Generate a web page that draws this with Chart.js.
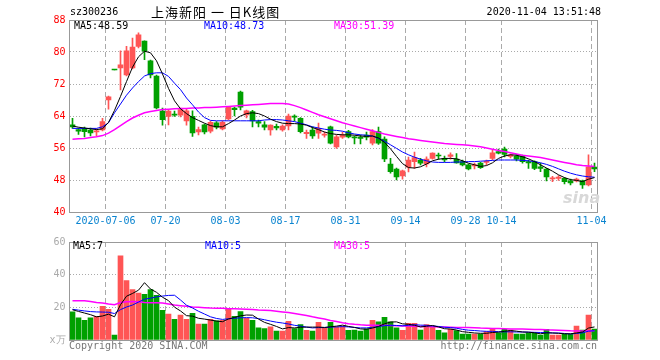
<!DOCTYPE html>
<html>
<head>
<meta charset="utf-8">
<script src="https://cdn.jsdelivr.net/npm/chart.js@4.4.0/dist/chart.umd.min.js"></script>
<style>
  body { margin: 0; background: #fff; width: 660px; height: 360px; position: relative; overflow: hidden;
         font-family: "DejaVu Sans Mono", monospace; font-size: 10px; }
  canvas { position: absolute; left: 0; }
  #kc { top: 0; }
  #vc { top: 232px; }
  .t { position: absolute; white-space: pre; line-height: 12px; z-index: 2; }
</style>
</head>
<body>
<canvas id="kc" width="660" height="232"></canvas>
<canvas id="vc" width="660" height="128"></canvas>

<div class="t" style="left:70px;top:6px">sz300236</div>
<div class="t" style="left:151px;top:4px;font-family:'Noto Sans CJK SC';font-size:13px;line-height:16px;letter-spacing:1px">上海新阳 一 日K线图</div>
<div class="t" style="right:59px;top:6px">2020-11-04 13:51:48</div>

<div class="t" style="left:74px;top:20px;color:#000">MA5:48.59</div>
<div class="t" style="left:204px;top:20px;color:#0000ff">MA10:48.73</div>
<div class="t" style="left:334px;top:20px;color:#ff00ff">MA30:51.39</div>
<div class="t" style="left:563px;top:188px;color:#d8d8d8;font:italic bold 16px 'DejaVu Sans'">sina</div>

<div class="t" style="left:73px;top:240px;color:#000">MA5:7</div>
<div class="t" style="left:205px;top:240px;color:#0000ff">MA10:5</div>
<div class="t" style="left:334px;top:240px;color:#ff00ff">MA30:5</div>

<div class="t" style="left:69px;top:340px;color:#777">Copyright 2020 SINA.COM</div>
<div class="t" style="right:63px;top:340px;color:#777">http://finance.sina.com.cn</div>

<script>
// trading days shown (2020)
const dates = ['06-24','06-29','06-30','07-01','07-02','07-03',
  '07-06','07-07','07-08','07-09','07-10','07-13','07-14','07-15','07-16','07-17',
  '07-20','07-21','07-22','07-23','07-24','07-27','07-28','07-29','07-30','07-31',
  '08-03','08-04','08-05','08-06','08-07','08-10','08-11','08-12','08-13','08-14',
  '08-17','08-18','08-19','08-20','08-21','08-24','08-25','08-26','08-27','08-28','08-31',
  '09-01','09-02','09-03','09-04','09-07','09-08','09-09','09-10','09-11',
  '09-14','09-15','09-16','09-17','09-18','09-21','09-22','09-23','09-24','09-25',
  '09-28','09-29','09-30',
  '10-09','10-12','10-13','10-14','10-15','10-16','10-19','10-20','10-21','10-22','10-23','10-26','10-27','10-28','10-29','10-30',
  '11-02','11-03','11-04'];

const tickDates = ['07-06','07-20','08-03','08-17','08-31','09-14','09-28','10-14','11-04'];
const tickLabels = ['2020-07-06','07-20','08-03','08-17','08-31','09-14','09-28','10-14','11-04'];

const open = [61.8,60.6,60.9,60.5,60.0,60.5,68.0,75.6,76.0,74.3,
  76.0,81.4,82.7,77.8,74.0,65.2,63.9,64.5,64.2,62.8,
  63.9,60.0,61.8,60.2,62.3,60.8,63.3,66.0,70.0,64.3,
  65.1,62.6,61.8,60.5,61.4,60.5,61.5,64.0,63.4,59.6,
  60.5,59.7,59.2,61.3,56.3,58.7,60.1,58.8,58.7,59.2,
  57.2,60.1,58.2,52.0,50.7,49.0,51.2,52.6,53.0,52.0,
  53.4,54.2,53.4,53.9,53.2,52.6,51.8,51.5,52.2,52.4,
  53.4,55.1,55.7,53.9,54.0,54.0,52.6,52.6,51.3,50.7,
  48.3,48.4,48.4,47.8,47.8,47.8,46.8,51.2];
const high = [63.4,61.0,61.2,61.0,60.8,63.4,69.0,75.6,80.3,81.4,
  83.5,84.8,82.8,78.0,74.2,66.0,65.4,65.2,66.0,65.8,
  65.3,61.2,62.0,62.7,62.6,62.8,66.4,66.2,70.2,65.5,
  65.4,63.0,62.6,61.8,62.0,61.8,64.5,64.3,63.6,60.5,
  61.3,62.2,60.0,61.5,59.2,60.0,60.4,59.0,59.2,60.0,
  60.6,61.2,58.8,53.4,51.0,50.5,53.7,55.0,53.4,53.8,
  54.8,54.7,54.0,54.8,54.6,53.0,52.0,52.2,52.4,53.0,
  55.5,55.7,56.2,54.5,54.2,54.2,53.0,52.8,52.2,50.9,
  48.9,49.1,48.6,48.2,48.5,48.0,54.3,52.2];
const low = [60.9,59.4,58.8,59.0,59.0,60.3,65.7,75.5,70.5,74.0,
  75.8,81.0,78.1,73.5,65.8,61.7,61.8,63.9,63.8,61.7,
  58.9,59.3,59.5,59.8,60.8,60.5,63.0,64.0,65.5,63.5,
  61.3,61.3,60.5,59.2,60.5,60.2,60.5,62.8,59.8,58.4,
  58.4,58.4,58.7,57.0,55.9,58.4,58.5,57.0,57.0,58.0,
  56.8,56.9,52.6,49.7,48.0,48.2,50.0,50.9,51.8,51.3,
  53.2,53.2,52.5,53.2,52.2,51.5,50.5,50.8,50.9,51.8,
  53.0,54.5,53.8,53.5,52.8,52.2,50.9,50.6,50.1,47.8,
  47.6,47.9,47.0,46.8,47.5,45.9,46.5,50.1];
const close = [61.3,60.2,60.1,59.8,60.3,62.6,68.8,75.5,76.8,80.3,
  81.2,84.3,80.2,74.3,66.0,63.1,65.2,64.2,65.6,65.3,
  59.8,60.6,60.0,62.4,61.2,62.4,66.2,65.6,66.2,65.3,
  62.8,62.2,61.2,61.75,61.0,61.5,64.0,63.7,60.1,59.9,
  59.0,60.9,59.5,57.2,58.8,59.2,58.8,58.5,58.4,58.7,
  60.1,57.2,53.3,50.1,48.8,50.3,53.0,53.6,52.2,53.2,
  54.7,54.0,53.0,54.3,52.3,51.8,50.8,51.8,51.1,52.6,
  54.8,54.7,54.4,54.3,53.2,52.6,52.3,50.9,50.9,48.8,
  48.5,48.7,47.6,47.3,48.2,46.8,51.3,50.8];

const ma5 = [61.5,61.2,61.0,60.8,60.6,60.8,62.4,65.4,68.9,72.6,
  76.2,78.8,80.2,79.8,77.8,74.5,70.9,67.8,65.8,64.6,
  63.6,62.9,62.2,61.6,61.3,61.3,62.1,63.0,64.0,64.6,
  64.8,64.6,64.0,63.2,62.6,62.2,62.1,62.1,62.0,61.7,
  61.1,60.6,60.0,59.6,59.4,59.3,59.3,59.2,59.0,58.9,
  59.0,58.5,57.4,55.8,53.9,52.1,51.1,51.0,51.3,52.0,
  52.8,53.2,53.4,53.4,53.3,52.8,52.2,51.8,51.4,51.6,
  52.3,53.4,54.0,54.3,54.2,53.8,53.3,52.6,51.8,51.0,
  50.2,49.3,48.6,48.1,47.9,47.6,48.2,48.6];
const ma10 = [60.9,60.9,60.9,60.9,60.9,61.3,62.3,64.8,67.0,69.2,
  71.0,72.6,74.0,74.6,74.8,74.8,73.9,72.2,70.6,68.5,
  66.8,65.0,63.6,62.9,62.8,62.8,62.8,62.8,62.8,62.8,
  62.8,62.8,63.0,63.1,63.1,63.0,62.8,62.6,62.2,61.8,
  61.3,61.0,60.7,60.5,60.4,60.2,59.8,59.5,59.3,59.2,
  59.0,58.4,57.7,56.8,55.9,55.0,54.3,53.7,53.2,52.8,
  52.5,52.4,52.4,52.4,52.5,52.5,52.6,52.6,52.7,52.8,
  52.9,53.0,53.0,53.0,53.0,52.9,52.8,52.6,52.3,51.9,
  51.4,50.8,50.2,49.7,49.3,49.0,48.8,48.7];
const ma30 = [58.2,58.3,58.4,58.6,58.8,59.1,59.7,60.6,61.6,62.6,
  63.5,64.2,64.8,65.1,65.4,65.6,65.7,65.8,65.9,65.9,
  66.0,66.0,66.1,66.1,66.2,66.3,66.4,66.5,66.6,66.7,
  66.8,66.9,67.0,67.1,67.1,67.1,67.0,66.6,66.1,65.5,
  64.9,64.3,63.8,63.3,62.8,62.3,61.9,61.5,61.1,60.7,
  60.3,59.9,59.5,59.2,58.9,58.6,58.3,58.1,57.9,57.7,
  57.5,57.3,57.1,57.0,56.9,56.8,56.7,56.5,56.3,56.0,
  55.7,55.4,55.1,54.8,54.5,54.2,54.0,53.8,53.6,53.3,
  53.0,52.7,52.4,52.1,51.8,51.6,51.5,51.4];

// volume, in units of 10k
const vol = [17.2,13.5,12.1,13.5,14.5,20.6,18.8,3.0,51.5,36.4,
  30.9,28.7,27.9,30.9,27.3,18.2,15.8,12.7,15.2,12.7,
  16.4,9.7,9.7,12.7,11.7,12.1,18.8,14.5,17.4,13.3,
  12.1,7.5,7.0,8.1,5.5,5.5,11.4,7.0,9.5,5.9,
  5.5,10.8,7.3,10.8,8.0,8.5,5.9,6.0,5.5,6.9,
  12.1,11.1,13.9,11.1,7.5,5.9,10.2,10.2,6.1,9.5,
  8.3,5.9,4.4,6.7,5.7,3.7,3.7,3.7,3.7,5.1,
  6.9,4.4,6.5,6.0,3.7,3.7,4.4,4.4,3.0,6.5,
  3.0,3.0,3.4,3.4,8.5,6.0,15.2,6.7];
const vma5 = [18.5,17.5,16.5,15.5,14.2,14.7,15.8,14.2,21.6,26.8,
  28.5,30.5,35.1,31.2,29.2,26.2,24.1,20.1,17.8,14.9,
  14.6,13.3,12.8,12.2,11.6,11.2,12.9,13.8,14.8,15.3,
  15.2,12.8,10.8,9.6,8.3,6.8,7.6,7.4,7.8,7.9,
  7.9,7.9,7.7,8.1,8.5,9.1,8.3,7.7,6.8,6.6,
  7.3,8.3,9.9,11.0,11.1,9.9,9.6,9.0,8.0,8.4,
  8.9,8.0,6.9,6.7,6.1,5.1,4.7,4.3,4.1,4.1,
  4.6,4.8,5.3,5.8,5.4,4.9,4.8,4.4,3.8,4.4,
  4.3,4.1,3.8,3.8,4.3,4.9,7.3,8.0];
const vma10 = [18.8,18.3,17.8,17.4,17.2,17.1,17.0,16.2,18.6,20.2,
  21.4,23.2,25.0,25.6,26.4,26.9,27.3,27.4,24.5,21.3,
  19.6,17.6,15.9,14.2,13.2,12.6,13.0,13.3,13.6,13.7,
  13.6,13.1,12.4,11.6,10.9,10.4,9.8,9.0,8.5,7.9,
  7.4,7.6,7.6,7.9,8.0,8.2,8.0,7.7,7.4,7.4,
  7.8,8.2,8.8,9.0,8.9,8.7,9.0,9.4,9.1,9.0,
  8.6,8.3,7.8,7.6,7.2,6.5,6.0,5.8,5.5,5.3,
  5.3,5.1,5.0,5.0,4.9,4.9,4.8,4.7,4.6,4.5,
  4.3,4.3,4.0,3.7,4.0,4.4,5.4,5.7];
const vma30 = [24.0,24.0,24.0,23.6,23.0,22.6,22.0,21.6,23.0,23.4,
  23.6,23.4,23.0,22.8,22.8,22.6,22.0,21.4,21.0,20.6,
  20.2,20.0,19.8,19.6,19.5,19.4,19.2,19.1,19.0,18.9,
  18.7,18.4,18.2,18.0,17.6,17.2,16.8,16.2,15.6,15.0,
  14.2,13.5,12.8,12.0,11.3,10.6,10.0,9.6,9.3,9.1,
  9.0,9.0,9.0,8.9,8.8,8.6,8.5,8.4,8.3,8.2,
  8.1,8.0,7.9,7.8,7.7,7.7,7.6,7.5,7.3,7.2,
  7.1,7.0,6.9,6.8,6.8,6.7,6.6,6.5,6.4,6.2,
  6.1,6.0,5.8,5.6,5.5,5.5,5.6,5.6];

const RED = '#ff5555', GREEN = '#00a000';
const candleColors = close.map((c, i) => c >= open[i] ? RED : GREEN);
const monoFont = { family: 'DejaVu Sans Mono', size: 10 };

// draws the grey box round each plot area
const frame = {
  id: 'frame',
  afterDraw(chart) {
    const { ctx, chartArea: a } = chart;
    ctx.save();
    ctx.strokeStyle = '#999';
    ctx.lineWidth = 1;
    ctx.strokeRect(a.left, a.top + 0.5, a.right - a.left, a.bottom - a.top);
    ctx.restore();
  }
};

function xScale(showLabels) {
  return {
    offset: true,
    grid: {
      offset: true,
      drawTicks: false,
      color: c => (c.index !== undefined && tickDates.includes(dates[c.index])) ? '#aaa' : 'rgba(0,0,0,0)'
    },
    border: { display: false, dash: [5, 3] },
    ticks: {
      display: showLabels,
      autoSkip: false,
      maxRotation: 0,
      minRotation: 0,
      labelOffset: -3,
      padding: 3,
      color: '#0a84d0',
      font: monoFont,
      callback: (v, i) => {
        const k = tickDates.indexOf(dates[i]);
        return k >= 0 ? tickLabels[k] : '';
      }
    },
    afterFit: s => { s.height = 20; }
  };
}

function lineSet(data, color, width) {
  return { type: 'line', data, borderColor: color, borderWidth: width, pointRadius: 0, tension: 0, order: 0 };
}

new Chart(document.getElementById('kc'), {
  type: 'bar',
  data: {
    labels: dates,
    datasets: [
      lineSet(ma5, '#000', 1),
      lineSet(ma10, '#0000ff', 1),
      lineSet(ma30, '#ff00ff', 1.5),
      { data: open.map((o, i) => [o, close[i]]), backgroundColor: candleColors, barThickness: 5,
        grouped: false, minBarLength: 1, order: 1 },
      { data: low.map((l, i) => [l, high[i]]), backgroundColor: candleColors, barThickness: 1,
        grouped: false, order: 2 }
    ]
  },
  options: {
    responsive: false,
    animation: false,
    devicePixelRatio: 1,
    layout: { padding: { top: 20, right: 62.5, left: 0, bottom: 0 } },
    plugins: { legend: { display: false }, tooltip: { enabled: false } },
    scales: {
      x: xScale(true),
      y: {
        min: 40, max: 88,
        grid: { color: '#aaa', drawTicks: false },
        border: { display: false, dash: [1, 2] },
        ticks: { stepSize: 8, color: '#ff0000', font: monoFont, padding: 4 },
        afterFit: s => { s.width = 69.5; }
      }
    }
  },
  plugins: [frame]
});

new Chart(document.getElementById('vc'), {
  type: 'bar',
  data: {
    labels: dates,
    datasets: [
      lineSet(vma5, '#000', 1),
      lineSet(vma10, '#0000ff', 1),
      lineSet(vma30, '#ff00ff', 1.5),
      { data: vol, backgroundColor: candleColors, barThickness: 5, grouped: false, order: 1 }
    ]
  },
  options: {
    responsive: false,
    animation: false,
    devicePixelRatio: 1,
    layout: { padding: { top: 8, right: 62.5, left: 0, bottom: 0 } },
    plugins: { legend: { display: false }, tooltip: { enabled: false } },
    scales: {
      x: xScale(false),
      y: {
        min: 0, max: 60,
        grid: { color: '#aaa', drawTicks: false },
        border: { display: false, dash: [1, 2] },
        ticks: { stepSize: 20, color: '#aaa', font: monoFont, padding: 4,
                 callback: v => v === 0 ? 'x万' : v },
        afterFit: s => { s.width = 69.5; }
      }
    }
  },
  plugins: [frame]
});
</script>
</body>
</html>
